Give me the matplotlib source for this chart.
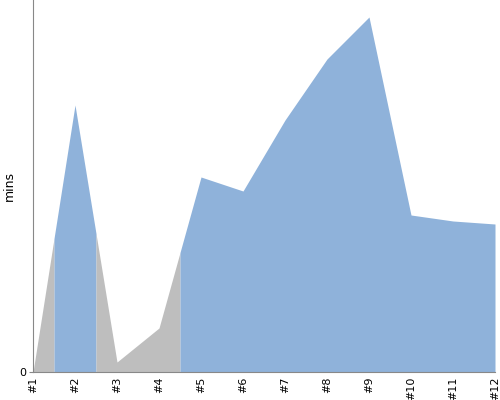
import numpy as np
import matplotlib
matplotlib.use("Agg")
import matplotlib.pyplot as plt

labels = ["#1", "#2", "#3", "#4", "#5", "#6", "#7", "#8", "#9", "#10", "#11", "#12"]
mins = [0, 26.7, 1.0, 4.4, 19.5, 18.1, 25.2, 31.3, 35.5, 15.7, 15.1, 14.8]
flag = [0, 1, 0, 0, 1, 1, 1, 1, 1, 1, 1, 1]   # 1 = blue band, 0 = grey band

GREY = "#bebebe"
BLUE = "#8fb2da"

fig = plt.figure(figsize=(5, 4), dpi=100)
ax = fig.add_axes([0.066, 0.07, 0.924, 0.93])

x = np.arange(len(labels))
y = np.array(mins, dtype=float)
n = len(x)

# group consecutive points with the same flag; each run owns the band
# half-way to its neighbours, drawn as one polygon so no seams show
i = 0
while i < n:
    j = i
    while j + 1 < n and flag[j + 1] == flag[i]:
        j += 1
    lo, hi = max(i - 0.5, 0), min(j + 0.5, n - 1)
    xs = sorted({lo, hi} | set(range(i, j + 1)))
    ys = np.interp(xs, x, y)
    ax.fill_between(xs, ys, 0, color=BLUE if flag[i] else GREY, lw=0)
    i = j + 1

ax.set_xlim(0, n - 1)
ax.set_ylim(0, 37.2)
ax.set_xticks(x)
ax.set_xticklabels(labels, rotation=90, fontsize=8)
ax.set_yticks([0])
ax.set_yticklabels(["0"], fontsize=8)
ax.tick_params(axis="x", length=0, pad=3)
ax.tick_params(axis="y", length=3, color="#888888", pad=2)
ax.set_ylabel("mins", fontsize=9)
ax.yaxis.set_label_coords(-0.036, 0.5)
for s in ["top", "right"]:
    ax.spines[s].set_visible(False)
for s in ["left", "bottom"]:
    ax.spines[s].set_color("#888888")

fig.savefig("out.png", dpi=100)
